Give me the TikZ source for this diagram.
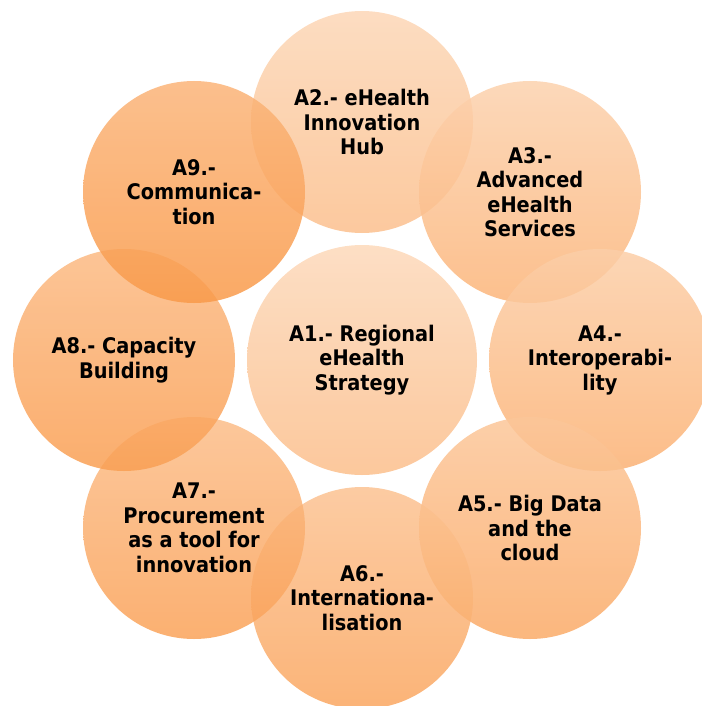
\documentclass[tikz,border=0pt]{standalone}
\usepackage{fontspec}
\setmainfont{DejaVu Sans Condensed}
\definecolor{accent}{HTML}{F99A4A}
\begin{document}
\begin{tikzpicture}[x=1bp,y=-1bp,
  disc/.style={circle,inner sep=0pt,draw=none,fill opacity=0.85,minimum size=222bp},
  bigdisc/.style={disc,minimum size=230bp},
  shade/.style 2 args={top color=accent!#1!white,bottom color=accent!#2!white},
  label/.style={align=center,font=\bfseries\fontsize{21.5bp}{24.5bp}\selectfont,text=black}]
\useasboundingbox (0,0) rectangle (702,706);
\clip (0,0) rectangle (702,706);
% discs: the central one, then the ring clockwise from the top
\node[bigdisc,shade={38}{64}] (c1) at (362,360) {};
\node[disc,shade={40}{63}] (c2) at (362,122) {};
\node[disc,shade={45}{74}] (c3) at (530,192) {};
\node[disc,shade={48}{77}] (c4) at (600,360) {};
\node[disc,shade={56}{84}] (c5) at (530,528) {};
\node[disc,shade={60}{88}] (c6) at (362,598) {};
\node[disc,shade={65}{92}] (c7) at (194,528) {};
\node[disc,shade={68}{95}] (c8) at (124,360) {};
\node[disc,shade={74}{100}] (c9) at (194,192) {};
% captions on top of all discs
\node[label] (t1) at (c1) {A1.- Regional\\eHealth\\Strategy};
\node[label] (t2) at (c2) {A2.- eHealth\\Innovation\\Hub};
\node[label] (t3) at (c3) {A3.-\\Advanced\\eHealth\\Services};
\node[label] (t4) at (c4) {A4.-\\Interoperabi-\\lity};
\node[label] (t5) at (c5) {A5.- Big Data\\and the\\cloud};
\node[label] (t6) at (c6) {A6.-\\Internationa-\\lisation};
\node[label] (t7) at (c7) {A7.-\\Procurement\\as a tool for\\innovation};
\node[label] (t8) at (c8) {A8.- Capacity\\Building};
\node[label] (t9) at (c9) {A9.-\\Communica-\\tion};
\end{tikzpicture}
\end{document}
